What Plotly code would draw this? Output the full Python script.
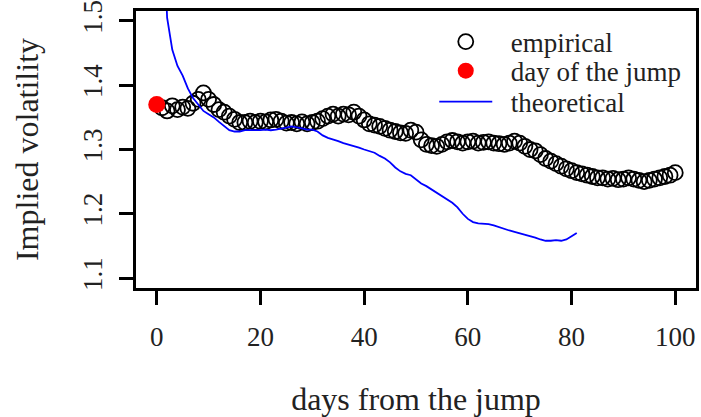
import plotly.graph_objects as go

days_emp = list(range(1, 101))
emp = [1.365, 1.360, 1.368, 1.362, 1.366, 1.364, 1.372, 1.378, 1.388, 1.378,
       1.370, 1.362, 1.358, 1.352, 1.347, 1.342, 1.342, 1.344, 1.342, 1.344,
       1.343, 1.346, 1.347, 1.344, 1.341, 1.342, 1.340, 1.343, 1.340, 1.342,
       1.344, 1.348, 1.352, 1.355, 1.352, 1.355, 1.354, 1.358, 1.352, 1.346,
       1.340, 1.338, 1.336, 1.333, 1.330, 1.328, 1.326, 1.325, 1.330, 1.327,
       1.315, 1.308, 1.306, 1.305, 1.308, 1.312, 1.314, 1.312, 1.310, 1.312,
       1.313, 1.310, 1.311, 1.312, 1.310, 1.309, 1.308, 1.310, 1.313, 1.310,
       1.305, 1.300, 1.298, 1.292, 1.286, 1.282, 1.278, 1.274, 1.270, 1.267,
       1.264, 1.262, 1.260, 1.258, 1.256, 1.256, 1.254, 1.255, 1.253, 1.254,
       1.256, 1.254, 1.252, 1.250, 1.252, 1.254, 1.256, 1.258, 1.260, 1.264]

jump_day = [0]
jump_val = [1.37]

days_theo = list(range(1, 82))
theo = [1.700, 1.505, 1.455, 1.430, 1.415, 1.395, 1.380, 1.370, 1.360, 1.355,
        1.350, 1.343, 1.336, 1.330, 1.328, 1.328, 1.330, 1.330, 1.329, 1.330,
        1.331, 1.330, 1.331, 1.332, 1.334, 1.336, 1.335, 1.333, 1.331, 1.331,
        1.328, 1.322, 1.318, 1.316, 1.313, 1.310, 1.308, 1.305, 1.303, 1.300,
        1.298, 1.295, 1.290, 1.286, 1.280, 1.272, 1.266, 1.262, 1.260, 1.253,
        1.247, 1.243, 1.238, 1.232, 1.227, 1.222, 1.217, 1.210, 1.200, 1.192,
        1.187, 1.185, 1.185, 1.184, 1.182, 1.179, 1.176, 1.174, 1.172, 1.170,
        1.167, 1.165, 1.163, 1.160, 1.158, 1.158, 1.159, 1.158, 1.160, 1.165,
        1.170]

x_ticks = [0, 20, 40, 60, 80, 100]
y_ticks = [1.1, 1.2, 1.3, 1.4, 1.5]
names = ["empirical", "day of the jump", "theoretical"]

FONT = "Liberation Serif"
FS = 27
TXT = "#222222"
NB = "\u00a0\u00a0"

fig = go.Figure()
fig.add_trace(go.Scatter(
    x=days_emp, y=emp, mode="markers", name=NB + names[0], legend="legend",
    marker=dict(symbol="circle-open", size=15, color="black", line=dict(width=1.8, color="black")),
))
fig.add_trace(go.Scatter(
    x=jump_day, y=jump_val, mode="markers", name=NB + names[1], legend="legend2",
    marker=dict(symbol="circle", size=17, color="#ff0000"),
))
fig.add_trace(go.Scatter(
    x=days_theo, y=theo, mode="lines", name=NB + names[2], legend="legend3",
    line=dict(color="#0000ff", width=1.8),
))

def leg(y):
    return dict(x=0.5326, y=y, xanchor="left", yanchor="middle",
                bgcolor="rgba(0,0,0,0)", borderwidth=0,
                font=dict(family=FONT, size=FS, color=TXT), itemwidth=53)

fig.update_layout(
    width=701, height=417,
    margin=dict(l=136, r=5, t=11, b=129, autoexpand=False),
    paper_bgcolor="white", plot_bgcolor="white",
    font=dict(family=FONT, size=FS, color=TXT),
    showlegend=True,
    legend=leg(0.888), legend2=leg(0.783), legend3=leg(0.671),
    xaxis=dict(range=[-4, 104], tickvals=x_ticks, ticktext=[str(v) for v in x_ticks],
               showgrid=False, zeroline=False, showline=True, mirror=True,
               linecolor="black", linewidth=2.5, ticks="outside", ticklen=14,
               tickwidth=2.5, tickcolor="black", automargin=False,
               ticklabelstandoff=9,
               title=dict(text="days from the jump", standoff=45)),
    yaxis=dict(range=[1.0845, 1.5155], tickvals=y_ticks, ticktext=[f"{v:.1f}" for v in y_ticks],
               tickangle=-90, automargin=False,
               showgrid=False, zeroline=False, showline=True, mirror=True,
               linecolor="black", linewidth=2.5, ticks="outside", ticklen=14,
               tickwidth=2.5, tickcolor="black", ticklabelstandoff=6,
               title=dict(text="Implied volatility", standoff=31)),
)

fig.write_html("out.html", config={"displayModeBar": False},
               post_script="document.body.style.margin='0';document.body.style.overflow='hidden';")
